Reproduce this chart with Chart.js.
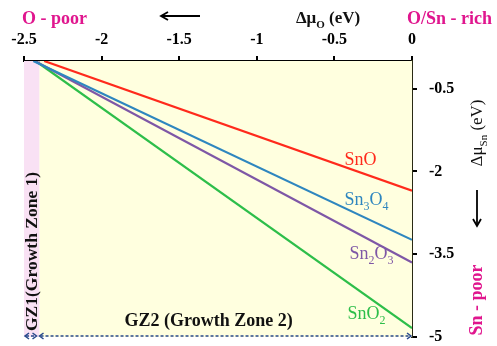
<!DOCTYPE html>
<html>
<head>
<meta charset="utf-8">
<script src="https://cdn.jsdelivr.net/npm/chart.js@4"></script>
<style>
  html, body { margin: 0; padding: 0; background: #fff; }
  canvas { display: block; }
</style>
</head>
<body>
<canvas id="c" width="497" height="346"></canvas>
<script>
// Stability lines of the tin oxides in the (Δμ_O, Δμ_Sn) plane
const compounds = ['SnO', 'Sn3O4', 'Sn2O3', 'SnO2'];
const muOStart = [-2.37, -2.44, -2.43, -2.425];   // Δμ_O where Δμ_Sn = 0
const muSnEnd = [-2.35, -3.24, -3.65, -4.84];     // Δμ_Sn where Δμ_O = 0
const lineColors = ['#FF2A1C', '#2E86BF', '#7E57A6', '#2DBE4A'];

const xTicks = [-2.5, -2, -1.5, -1, -0.5, 0];
const yTicks = [-0.5, -2, -3.5, -5];
const zoneEdges = [-2.5, -2.4, 0];                 // GZ1 | GZ2 boundaries in Δμ_O

const SERIF = '"Liberation Serif", "Times New Roman", serif';
const MAGENTA = '#E0168E';
const NAVY = '#284A8C';

// draw text made of parts, some of them subscripts
function richText(ctx, parts, x, y, size, weight, color, align) {
  ctx.save();
  ctx.fillStyle = color;
  ctx.textBaseline = 'alphabetic';
  const subSize = Math.round(size * 0.65);
  let total = 0;
  parts.forEach(p => {
    ctx.font = weight + ' ' + (p.sub ? subSize : size) + 'px ' + SERIF;
    p.w = ctx.measureText(p.t).width;
    total += p.w;
  });
  let cx = x;
  if (align === 'center') cx = x - total / 2;
  parts.forEach(p => {
    ctx.font = weight + ' ' + (p.sub ? subSize : size) + 'px ' + SERIF;
    ctx.fillText(p.t, cx, p.sub ? y + size * 0.28 : y);
    cx += p.w;
  });
  ctx.restore();
  return total;
}

function splitFormula(name) {
  const parts = [];
  name.replace(/([A-Za-z]+)(\d*)/g, (m, a, d) => {
    parts.push({ t: a });
    if (d) parts.push({ t: d, sub: true });
  });
  return parts;
}

function arrowHead(ctx, x, y, dx, dy, len, half) {
  // tip at (x,y), pointing along (dx,dy)
  const px = -dy, py = dx;
  ctx.beginPath();
  ctx.moveTo(x - dx * len + px * half, y - dy * len + py * half);
  ctx.lineTo(x, y);
  ctx.lineTo(x - dx * len - px * half, y - dy * len - py * half);
  ctx.stroke();
}

const zonesPlugin = {
  id: 'zones',
  beforeDatasetsDraw(chart) {
    const { ctx, chartArea: a, scales: { x } } = chart;
    const fills = ['#F9E1F4', '#FFFFDF'];
    ctx.save();
    for (let i = 0; i < zoneEdges.length - 1; i++) {
      const x0 = x.getPixelForValue(zoneEdges[i]);
      const x1 = x.getPixelForValue(zoneEdges[i + 1]);
      ctx.fillStyle = fills[i];
      ctx.fillRect(x0, a.top, x1 - x0, a.bottom - a.top);
    }
    ctx.restore();
  }
};

const annotatePlugin = {
  id: 'annotate',
  afterDatasetsDraw(chart) {
    const { ctx, chartArea: a, scales: { x, y } } = chart;
    // compound labels
    const anchors = [[-0.435, -1.88], [-0.435, -2.61], [-0.403, -3.59], [-0.416, -4.68]];
    compounds.forEach((name, i) => {
      richText(ctx, splitFormula(name), x.getPixelForValue(anchors[i][0]),
        y.getPixelForValue(anchors[i][1]), 18, 'normal', lineColors[i], 'left');
    });
    // growth zone captions
    richText(ctx, [{ t: 'GZ2 (Growth Zone 2)' }], x.getPixelForValue(-1.31),
      y.getPixelForValue(-4.8), 18, 'bold', '#111', 'center');
    ctx.save();
    ctx.translate(x.getPixelForValue(-2.45) + 1, y.getPixelForValue(-3.45));
    ctx.rotate(-Math.PI / 2);
    ctx.font = 'bold 17.5px ' + SERIF;
    ctx.fillStyle = '#111';
    ctx.textAlign = 'center';
    ctx.textBaseline = 'middle';
    ctx.fillText('GZ1(Growth Zone 1)', 0, 0);
    ctx.restore();

    // dashed zone-extent arrows along the bottom
    const yb = a.bottom - 1;
    const g0 = x.getPixelForValue(zoneEdges[0]) + 1;
    const g1 = x.getPixelForValue(zoneEdges[1]);
    const g2 = x.getPixelForValue(zoneEdges[2]) - 1;
    ctx.save();
    ctx.strokeStyle = NAVY;
    ctx.lineWidth = 1.5;
    ctx.setLineDash([3, 2]);
    ctx.beginPath();
    ctx.moveTo(g0 + 1, yb); ctx.lineTo(g1 - 4, yb);
    ctx.moveTo(g1 + 1, yb); ctx.lineTo(g2, yb);
    ctx.stroke();
    ctx.setLineDash([]);
    arrowHead(ctx, g0, yb, -1, 0, 4, 3);
    arrowHead(ctx, g1 - 3, yb, 1, 0, 4, 3);
    arrowHead(ctx, g1, yb, -1, 0, 4, 3);
    arrowHead(ctx, g2, yb, 1, 0, 4, 3);
    ctx.restore();
  },
  afterDraw(chart) {
    const { ctx } = chart;
    // top captions
    richText(ctx, [{ t: 'O - poor' }], 22, 24, 18, 'bold', MAGENTA, 'left');
    richText(ctx, [{ t: 'O/Sn - rich' }], 407, 24, 18, 'bold', MAGENTA, 'left');
    richText(ctx, [{ t: 'Δμ' }, { t: 'O', sub: true }, { t: ' (eV)' }], 328, 23, 17, 'bold', '#111', 'center');
    ctx.save();
    ctx.strokeStyle = '#000';
    ctx.lineWidth = 1.8;
    ctx.beginPath();
    ctx.moveTo(200, 16); ctx.lineTo(161, 16);
    ctx.stroke();
    arrowHead(ctx, 161, 16, -1, 0, 7, 4);
    ctx.restore();

    // right captions, rotated
    ctx.save();
    ctx.translate(482, 133);
    ctx.rotate(-Math.PI / 2);
    richText(ctx, [{ t: 'Δμ' }, { t: 'Sn', sub: true }, { t: ' (eV)' }], 0, 0, 17, 'normal', '#111', 'center');
    ctx.restore();
    ctx.save();
    ctx.translate(482, 300);
    ctx.rotate(-Math.PI / 2);
    richText(ctx, [{ t: 'Sn - poor' }], 0, 0, 18, 'bold', MAGENTA, 'center');
    ctx.restore();
    ctx.save();
    ctx.strokeStyle = '#000';
    ctx.lineWidth = 1.8;
    ctx.beginPath();
    ctx.moveTo(477, 190); ctx.lineTo(477, 226);
    ctx.stroke();
    arrowHead(ctx, 477, 226, 0, 1, 7, 4);
    ctx.restore();
  }
};

new Chart(document.getElementById('c'), {
  type: 'scatter',
  data: {
    datasets: compounds.map((name, i) => ({
      label: name,
      data: [{ x: muOStart[i], y: 0 }, { x: 0, y: muSnEnd[i] }],
      showLine: true,
      borderColor: lineColors[i],
      borderWidth: 2.2,
      pointRadius: 0,
      fill: false
    }))
  },
  options: {
    responsive: false,
    devicePixelRatio: 1,
    animation: false,
    layout: { padding: { left: 24, top: 0, right: 0, bottom: 9 } },
    plugins: { legend: { display: false }, tooltip: { enabled: false } },
    scales: {
      x: {
        type: 'linear',
        position: 'top',
        min: xTicks[0],
        max: xTicks[xTicks.length - 1],
        afterBuildTicks: s => { s.ticks = xTicks.map(v => ({ value: v })); },
        afterFit: s => { s.height = 61; s.paddingLeft = 0; s.paddingRight = 0; },
        ticks: {
          color: '#000',
          padding: 7,
          maxRotation: 0,
          font: { family: SERIF, size: 16, weight: 'bold' },
          callback: v => String(v)
        },
        grid: { drawOnChartArea: false, tickLength: 5, color: '#000', lineWidth: 2 },
        border: { display: true, color: '#000', width: 2 }
      },
      y: {
        type: 'linear',
        position: 'right',
        min: -5,
        max: 0,
        afterBuildTicks: s => { s.ticks = yTicks.map(v => ({ value: v })); },
        afterFit: s => { s.width = 85; s.paddingTop = 0; s.paddingBottom = 0; },
        ticks: {
          color: '#000',
          padding: 12,
          font: { family: SERIF, size: 16, weight: 'bold' },
          callback: v => String(v)
        },
        grid: { drawOnChartArea: false, tickLength: 5, color: '#000', lineWidth: 2 },
        border: { display: true, color: '#2a2a14', width: 2 }
      }
    }
  },
  plugins: [zonesPlugin, annotatePlugin]
});
</script>
</body>
</html>
